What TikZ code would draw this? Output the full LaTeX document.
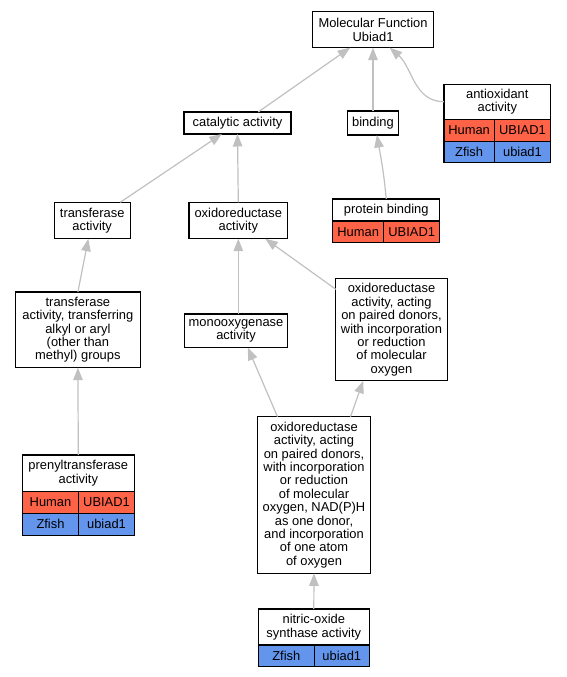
\documentclass[tikz,border=0pt]{standalone}
\usepackage{fontspec}
\setmainfont{Liberation Sans}
\usetikzlibrary{arrows.meta, positioning}
\definecolor{gohuman}{HTML}{FF6347}
\definecolor{gozfish}{HTML}{6495ED}
\definecolor{goedge}{HTML}{C0C0C0}

\begin{document}
\begin{tikzpicture}[x=1pt, y=-1pt,
    font=\fontsize{12.9}{13.4}\selectfont,
    term/.style={draw, line width=1.1pt, fill=white, align=center, inner sep=0pt, outer sep=0pt},
    cellhuman/.style={draw, line width=1.1pt, fill=gohuman, inner sep=0pt, outer sep=0pt, minimum height=21.7pt},
    cellzfish/.style={draw, line width=1.1pt, fill=gozfish, inner sep=0pt, outer sep=0pt, minimum height=21.7pt},
    isa/.style={draw=goedge, line width=1.2pt, -{Triangle[length=12.5pt, width=9.5pt]}},
]
    \useasboundingbox (0,0) rectangle (567,677);

    % top levels
    \node[term, minimum width=120.6pt, minimum height=35.7pt] (mf) at (373,29.8) {Molecular Function\\Ubiad1};
    \node[term, minimum width=107pt, minimum height=22pt] (cat) at (237.5,123) {catalytic activity};
    \node[term, minimum width=51.4pt, minimum height=24pt] (bind) at (373,123) {binding};

    % antioxidant activity with its genes
    \node[term, minimum width=106.7pt, minimum height=35.3pt] (antihd) at (497.3,101.7) {antioxidant\\activity};
    \node[cellhuman, minimum width=50.3pt, anchor=north west] (antih1) at (antihd.south west) {Human};
    \node[cellhuman, minimum width=56.4pt, anchor=west] (antih2) at (antih1.east) {UBIAD1};
    \node[cellzfish, minimum width=50.3pt, anchor=north west] (antiz1) at (antih1.south west) {Zfish};
    \node[cellzfish, minimum width=56.4pt, anchor=west] (antiz2) at (antiz1.east) {ubiad1};

    % second level
    \node[term, minimum width=75.7pt, minimum height=36.4pt] (tra) at (92.2,220.5) {transferase\\activity};
    \node[term, minimum width=98.7pt, minimum height=36.4pt] (oxi) at (238.3,220.5) {oxidoreductase\\activity};
    \node[term, minimum width=107pt, minimum height=22pt] (pbhd) at (386.2,210) {protein binding};
    \node[cellhuman, minimum width=51pt, anchor=north west] (pbh1) at (pbhd.south west) {Human};
    \node[cellhuman, minimum width=56pt, anchor=west] (pbh2) at (pbh1.east) {UBIAD1};

    % third level
    \node[term, minimum width=124.3pt, minimum height=75.7pt] (trx) at (77.9,329.8)
        {transferase\\activity, transferring\\alkyl or aryl\\(other than\\methyl) groups};
    \node[term, minimum width=103.4pt, minimum height=33.7pt] (mono) at (236,330.8) {monooxygenase\\activity};
    \node[term, minimum width=111.4pt, minimum height=102pt] (act) at (391.5,329.8)
        {oxidoreductase\\activity, acting\\on paired donors,\\with incorporation\\or reduction\\of molecular\\oxygen};

    % prenyltransferase activity with its genes
    \node[term, minimum width=112pt, minimum height=36.7pt] (prehd) at (78.3,473.3) {prenyltransferase\\activity};
    \node[cellhuman, minimum width=56.4pt, anchor=north west] (preh1) at (prehd.south west) {Human};
    \node[cellhuman, minimum width=55.6pt, anchor=west] (preh2) at (preh1.east) {UBIAD1};
    \node[cellzfish, minimum width=56.4pt, anchor=north west] (prez1) at (preh1.south west) {Zfish};
    \node[cellzfish, minimum width=55.6pt, anchor=west] (prez2) at (prez1.east) {ubiad1};

    % NAD(P)H term and nitric-oxide synthase
    \node[term, minimum width=113.4pt, minimum height=156.6pt] (big) at (314,495)
        {oxidoreductase\\activity, acting\\on paired donors,\\with incorporation\\or reduction\\of molecular\\oxygen, NAD(P)H\\as one donor,\\and incorporation\\of one atom\\of oxygen};
    \node[term, minimum width=111pt, minimum height=36pt] (nithd) at (313.8,627) {nitric-oxide\\synthase activity};
    \node[cellzfish, minimum width=56pt, anchor=north west] (nitz1) at (nithd.south west) {Zfish};
    \node[cellzfish, minimum width=55pt, anchor=west] (nitz2) at (nitz1.east) {ubiad1};

    % is_a edges
    \draw[isa] (cat.28) -- (mf.218);
    \draw[isa] (bind.north) -- (mf.south);
    \draw[isa] (antihd.west) to[out=180, in=-41] (mf.-47);
    \draw[isa] (tra.33) -- (cat.215);
    \draw[isa] (oxi.north) -- (cat.south);
    \draw[isa] (pbhd.north) to[out=95, in=-80] (bind.-72);
    \draw[isa] (trx.north) -- (tra.-102);
    \draw[isa] (mono.north -| oxi.south) -- (oxi.south);
    \draw[isa] (act.144) -- (oxi.-34);
    \draw[isa] (prehd.north) -- (trx.south);
    \draw[isa] (big.115) -- (mono.-55);
    \draw[isa] (big.65) -- (act.-119);
    \draw[isa] (nithd.north) -- (big.south);
\end{tikzpicture}
\end{document}
